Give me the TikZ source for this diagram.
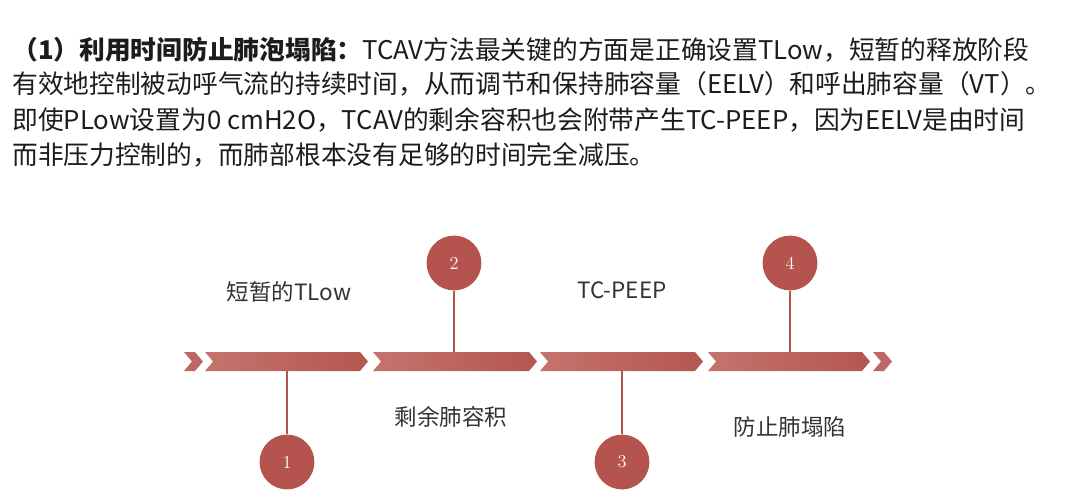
\documentclass[tikz,border=0pt]{standalone}
\usepackage{fontspec}
\newfontfamily\cjk{Noto Sans CJK SC}
\usepackage{tikz}
\usetikzlibrary{positioning}
\definecolor{barred}{HTML}{BE6661}
\definecolor{barleft}{HTML}{C5736E}
\definecolor{barright}{HTML}{B4564F}
\definecolor{ballred}{HTML}{B5534F}
\definecolor{txt}{HTML}{1C1C1C}
\definecolor{lbl}{HTML}{333333}
% one long piece of the arrow bar, from #1 to #2
\newcommand\piece[2]{%
\shade[left color=barleft, right color=barright]
  (#1,352) -- (#2-8,352) -- (#2,361.5) -- (#2-8,371) -- (#1,371) -- (#1+8,361.5) -- cycle;
}
% small chevron from #1 to #2
\newcommand\chev[2]{%
\fill[barred] (#1,352) -- (#2-8,352) -- (#2,361.5) -- (#2-8,371) -- (#1,371) -- (#1+8,361.5) -- cycle;
}

\begin{document}
\begin{tikzpicture}[x=0.025cm,y=-0.025cm,
  every node/.style={inner sep=0pt},
  line/.style={text=txt,anchor=west,font=\cjk\fontsize{18.3}{22}\selectfont},
  label/.style={text=lbl,font=\cjk\fontsize{16}{19}\selectfont},
  ball/.style={circle,fill=ballred,minimum size=39,text=white,font=\fontsize{13}{13}\selectfont},
  stem/.style={ballred,line width=1.4pt}]
	\useasboundingbox (0,0) rectangle (1080,495);

	%% the text on top
	\node[line] (t1) at (12,50) {\textbf{（1）利用时间防止肺泡塌陷：}TCAV方法最关键的方面是正确设置TLow，短暂的释放阶段};
	\node[line] (t2) at (12,84) {有效地控制被动呼气流的持续时间，从而调节和保持肺容量（EELV）和呼出肺容量（VT）。};
	\node[line] (t3) at (12,120) {即使PLow设置为0 cmH2O，TCAV的剩余容积也会附带产生TC-PEEP，因为EELV是由时间};
	\node[line] (t4) at (12,155) {而非压力控制的，而肺部根本没有足够的时间完全减压。};

	%% the bar
	\chev{184}{203}
	\piece{205}{368}
	\piece{373}{537}
	\piece{540}{703}
	\piece{708}{870}
	\chev{873}{892}

	% points on the bar
	\coordinate (b1) at (287,371);
	\coordinate (b2) at (454,352);
	\coordinate (b3) at (622,371);
	\coordinate (b4) at (790,352);

	%% balls
	\node[ball] (c1) at (287,462) {1};
	\node[ball] (c2) at (454,263) {2};
	\node[ball] (c3) at (622,462) {3};
	\node[ball] (c4) at (790,263) {4};
	\draw[stem] (c1) -- (b1);
	\draw[stem] (c2) -- (b2);
	\draw[stem] (c3) -- (b3);
	\draw[stem] (c4) -- (b4);

	%% labels
	\node[label] (l1) at (289,292) {短暂的TLow};
	\node[label] (l2) at (451,417) {剩余肺容积};
	\node[label] (l3) at (622,290) {TC-PEEP};
	\node[label] (l4) at (790,427) {防止肺塌陷};
\end{tikzpicture}
\end{document}
